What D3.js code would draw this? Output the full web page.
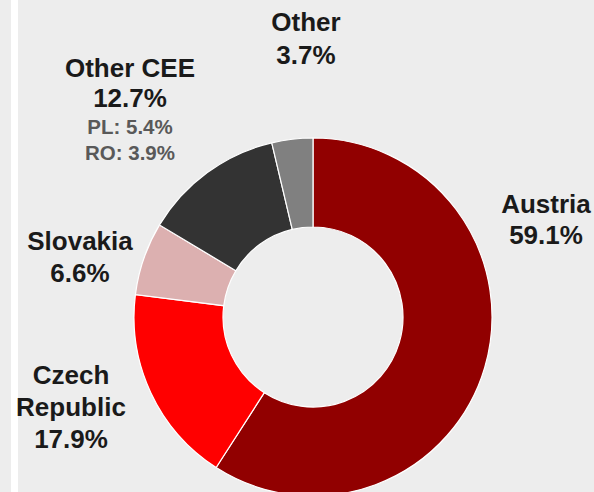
<!DOCTYPE html>
<html><head><meta charset="utf-8">
<script src="https://cdn.jsdelivr.net/npm/d3@7"></script>
<style>html,body{margin:0;padding:0;background:#ededed;}svg{display:block;}</style>
</head><body>
<script>
const categories = ["Austria", "Czech Republic", "Slovakia", "Other CEE", "Other"];
const shares = [59.1, 17.9, 6.6, 12.7, 3.7];
const colors = ["#910000", "#ff0000", "#dcb0b0", "#333333", "#808080"];
const labelLines = [["Austria", "59.1%"], ["Czech", "Republic", "17.9%"], ["Slovakia", "6.6%"], ["Other CEE", "12.7%"], ["Other", "3.7%"]];
const subLines = ["PL: 5.4%", "RO: 3.9%"];

const W = 594, H = 492;
const svg = d3.select("body").append("svg").attr("width", W).attr("height", H);
svg.append("rect").attr("width", W).attr("height", H).attr("fill", "#ededed");
svg.append("rect").attr("x", 11).attr("y", 0).attr("width", 7).attr("height", H).attr("fill", "#ffffff");

const cx = 313, cy = 317, R = 179, r = 90;
const pie = d3.pie().sort(null).value(d => d);
const arc = d3.arc().innerRadius(r).outerRadius(R);
const g = svg.append("g").attr("transform", `translate(${cx},${cy})`);
g.selectAll("path").data(pie(shares)).join("path")
  .attr("d", arc).attr("fill", (d, i) => colors[i])
  .attr("stroke", "#ffffff").attr("stroke-width", 1.2);

// label anchor positions (center x, first baseline y)
const labelPos = [[546, 213], [71, 384], [80, 250], [130, 77], [306, 31]];
const lineGap = [31, 32, 31.5, 30, 32.5];
const font = "Arial, 'Liberation Sans', sans-serif";
labelLines.forEach((lines, i) => {
  const t = svg.append("text").attr("text-anchor", "middle")
    .attr("font-family", font).attr("font-weight", "bold")
    .attr("font-size", 26).attr("fill", "#1a1a1a");
  lines.forEach((s, j) => {
    t.append("tspan").attr("x", labelPos[i][0]).attr("y", labelPos[i][1] + j * lineGap[i]).text(s);
  });
});
const sub = svg.append("text").attr("text-anchor", "middle")
  .attr("font-family", font).attr("font-weight", "bold")
  .attr("font-size", 20.5).attr("fill", "#595959");
subLines.forEach((s, j) => {
  sub.append("tspan").attr("x", 130).attr("y", 133.5 + j * 26.7).text(s);
});
</script>
</body></html>
